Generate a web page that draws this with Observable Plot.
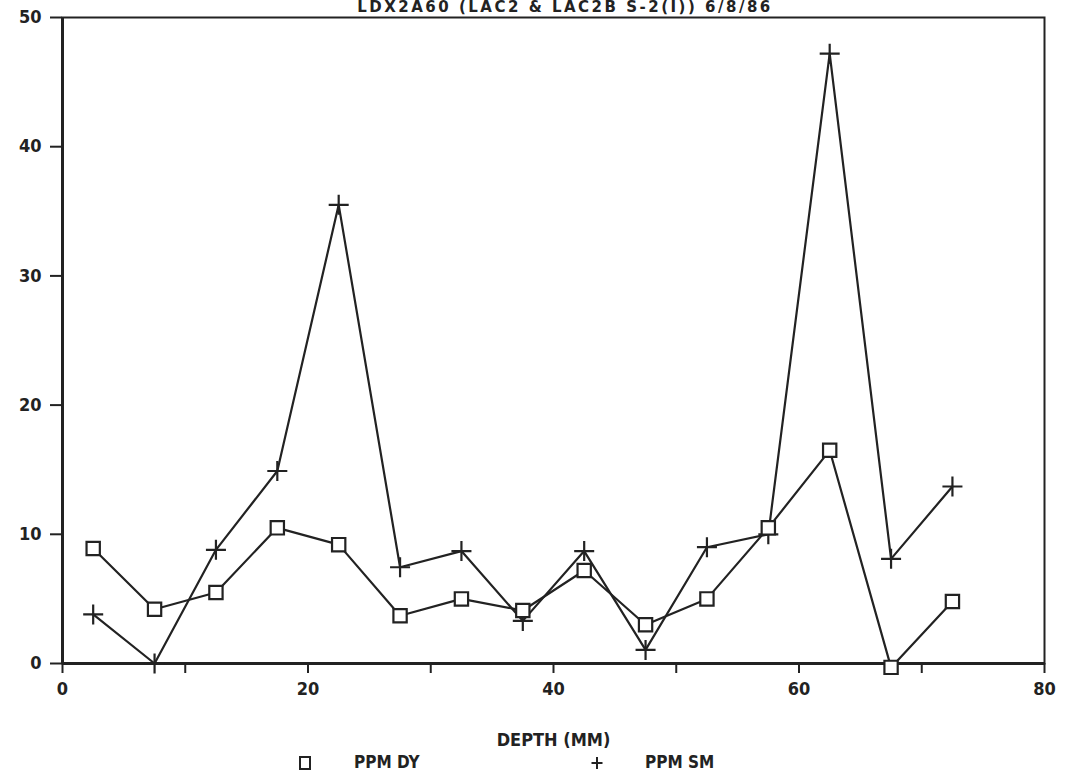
<!DOCTYPE html>
<html>
<head>
<meta charset="utf-8">
<script src="https://cdn.jsdelivr.net/npm/d3@7"></script>
<script src="https://cdn.jsdelivr.net/npm/@observablehq/plot@0.6"></script>
<style>
  html, body { margin: 0; padding: 0; background: #fff; }
  body { width: 1068px; height: 777px; overflow: hidden; position: relative;
         font-family: "DejaVu Sans", sans-serif; color: #222; }
  #title { position: absolute; top: 0px; left: 0; width: 1130px; text-align: center;
           font-weight: bold; font-size: 15px; line-height: 15px; letter-spacing: 2.5px; }
  #chart svg { display: block; }
  #legend { position: absolute; top: 752px; left: 0; width: 1068px; height: 22px;
            font-weight: bold; font-size: 17px; font-stretch: condensed; }
  #legend span { position: absolute; top: 0; }
</style>
</head>
<body>
<div id="chart"></div>
<div id="title"></div>
<div id="legend"></div>
<script>
const titleText = "LDX2A60 (LAC2 & LAC2B S-2(I)) 6/8/86";
const xLabel = "DEPTH (MM)";
const seriesNames = ["PPM DY", "PPM SM"];
const depth = [2.5, 7.5, 12.5, 17.5, 22.5, 27.5, 32.5, 37.5, 42.5, 47.5, 52.5, 57.5, 62.5, 67.5, 72.5];
const ppmDy = [8.9, 4.2, 5.5, 10.5, 9.2, 3.7, 5.0, 4.1, 7.2, 3.0, 5.0, 10.5, 16.5, -0.3, 4.8];
const ppmSm = [3.8, 0.0, 8.8, 14.9, 35.5, 7.45, 8.7, 3.3, 8.7, 1.05, 9.0, 10.0, 47.2, 8.1, 13.7];
const xTicks = [0, 10, 20, 30, 40, 50, 60, 70, 80];
const yTicks = [0, 10, 20, 30, 40, 50];

const dy = depth.map((d, i) => ({depth: d, value: ppmDy[i]}));
const sm = depth.map((d, i) => ({depth: d, value: ppmSm[i]}));
const ink = "#222";

const chart = Plot.plot({
  width: 1068,
  height: 752,
  marginTop: 17,
  marginLeft: 62,
  marginRight: 24,
  marginBottom: 89,
  style: {fontFamily: "DejaVu Sans", fontWeight: "bold", fontSize: "18px", color: ink, fontStretch: "condensed"},
  x: {domain: [0, 80]},
  y: {domain: [0, 50]},
  marks: [
    Plot.frame({stroke: ink, strokeWidth: 2}),
    Plot.ruleY([0], {stroke: ink, strokeWidth: 3}),
    Plot.ruleX([0], {stroke: ink, strokeWidth: 3}),
    Plot.axisX({ticks: xTicks, tickFormat: d => d % 20 === 0 ? d : "", tickSize: 10, tickPadding: 9,
                strokeWidth: 2, label: xLabel, labelAnchor: "center", labelOffset: 82, labelArrow: "none", fontSize: 18}),
    Plot.axisY({ticks: yTicks, tickSize: 12, tickPadding: 9, strokeWidth: 2, label: null, fontSize: 18}),
    Plot.line(sm, {x: "depth", y: "value", stroke: ink, strokeWidth: 2.2}),
    Plot.line(dy, {x: "depth", y: "value", stroke: ink, strokeWidth: 2.2}),
    Plot.dot(sm, {x: "depth", y: "value", symbol: "plus", r: 6.5, stroke: ink, strokeWidth: 2.2}),
    Plot.dot(dy, {x: "depth", y: "value", symbol: "square", r: 7.5, stroke: ink, fill: "white", strokeWidth: 2.2})
  ]
});
document.getElementById("chart").appendChild(chart);
document.getElementById("title").textContent = titleText;

// legend
const legend = document.getElementById("legend");
function sym(kind, left) {
  const s = document.createElementNS("http://www.w3.org/2000/svg", "svg");
  s.setAttribute("width", 16); s.setAttribute("height", 16);
  s.style.position = "absolute"; s.style.left = left + "px"; s.style.top = "3px";
  const p = document.createElementNS("http://www.w3.org/2000/svg", "path");
  p.setAttribute("d", kind === "square" ? "M3,2H13V14H3Z" : "M8,2V14M2.5,8H13.5");
  p.setAttribute("fill", "none"); p.setAttribute("stroke", ink); p.setAttribute("stroke-width", 2);
  s.appendChild(p);
  legend.appendChild(s);
}
function label(text, left) {
  const sp = document.createElement("span");
  sp.textContent = text; sp.style.left = left + "px";
  legend.appendChild(sp);
}
sym("square", 297); label(seriesNames[0], 354);
sym("plus", 589); label(seriesNames[1], 645);
</script>
</body>
</html>
